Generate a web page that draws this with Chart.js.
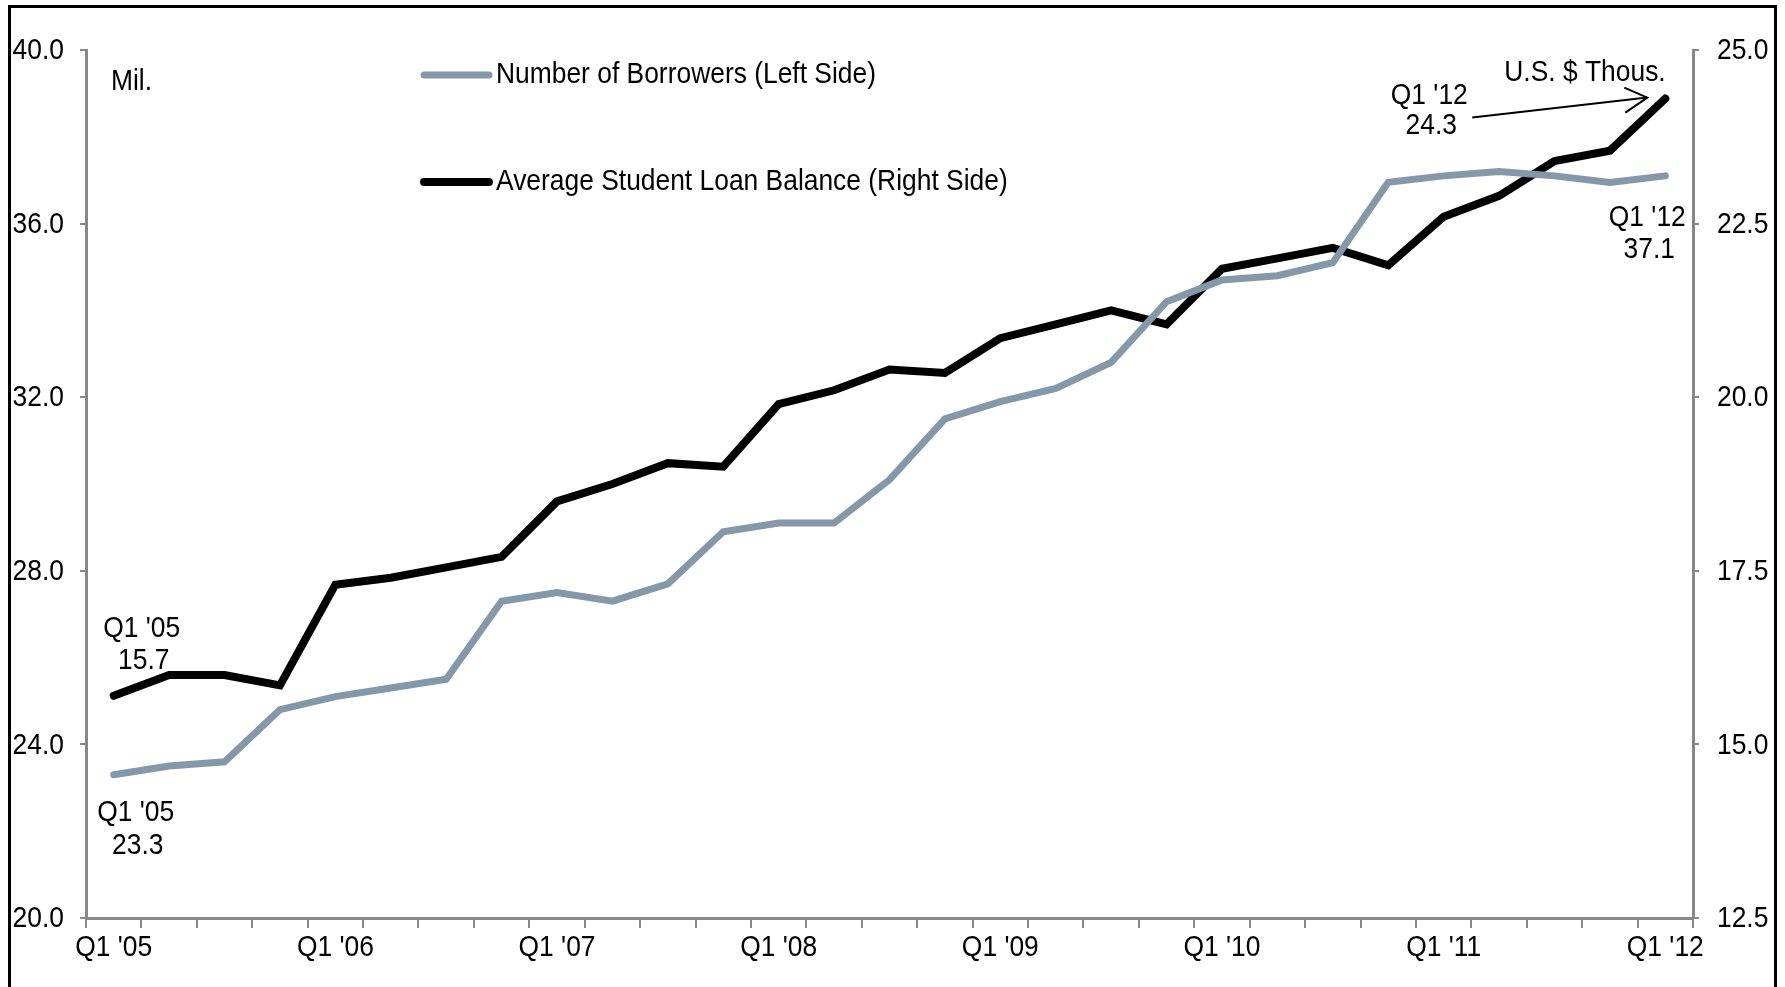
<!DOCTYPE html>
<html>
<head>
<meta charset="utf-8">
<title>Student loan borrowers and balances</title>
<script src="https://cdn.jsdelivr.net/npm/chart.js@4/dist/chart.umd.min.js"></script>
<style>
  html, body { margin: 0; padding: 0; background: #fff; }
  #wrap { width: 1785px; height: 987px; }
</style>
</head>
<body>
<div id="wrap"><canvas id="loanChart" width="1785" height="987"></canvas></div>
<script>
/* ===== DATA ===== */
const quarters = [
  "Q1 '05", "Q2 '05", "Q3 '05", "Q4 '05",
  "Q1 '06", "Q2 '06", "Q3 '06", "Q4 '06",
  "Q1 '07", "Q2 '07", "Q3 '07", "Q4 '07",
  "Q1 '08", "Q2 '08", "Q3 '08", "Q4 '08",
  "Q1 '09", "Q2 '09", "Q3 '09", "Q4 '09",
  "Q1 '10", "Q2 '10", "Q3 '10", "Q4 '10",
  "Q1 '11", "Q2 '11", "Q3 '11", "Q4 '11",
  "Q1 '12"
];

// millions of borrowers (left axis)
const borrowers = [
  23.3, 23.5, 23.6, 24.8,
  25.1, 25.3, 25.5, 27.3,
  27.5, 27.3, 27.7, 28.9,
  29.1, 29.1, 30.1, 31.5,
  31.9, 32.2, 32.8, 34.2,
  34.7, 34.8, 35.1, 36.95,
  37.1, 37.2, 37.1, 36.95,
  37.1
];

// average balance, thousands of dollars (right axis)
const avgBalance = [
  15.7, 16.0, 16.0, 15.85,
  17.3, 17.4, 17.55, 17.7,
  18.5, 18.75, 19.05, 19.0,
  19.9, 20.1, 20.4, 20.35,
  20.85, 21.05, 21.25, 21.05,
  21.85, 22.0, 22.15, 21.9,
  22.6, 22.9, 23.4, 23.55,
  24.3
];

const leftTicks = { min: 20, max: 40, step: 4 };
const rightTicks = { min: 12.5, max: 25, step: 2.5 };

/* ===== STYLE ===== */
const FONT = "'Liberation Sans', Arial, sans-serif";
const FONT_SIZE = 30;
const SQUEEZE = 0.88;          // narrow the glyphs horizontally
const AXIS_GREY = "#888888";
const BORROWER_COLOR = "#8598aa";

// draw condensed text centred vertically on y
function narrowText(ctx, text, x, y, align) {
  ctx.save();
  ctx.translate(x, y);
  ctx.scale(SQUEEZE, 1);
  ctx.font = FONT_SIZE + "px " + FONT;
  ctx.fillStyle = "#000";
  ctx.textBaseline = "middle";
  ctx.textAlign = align || "center";
  ctx.fillText(text, 0, 0);
  ctx.restore();
}

/* ===== FRAME + LABELS + LEGEND + CALLOUTS ===== */
const extras = {
  id: "extras",
  beforeDraw(chart) {
    const ctx = chart.ctx;
    ctx.save();
    ctx.fillStyle = "#fff";
    ctx.fillRect(0, 0, chart.width, chart.height);
    ctx.restore();
  },
  afterDraw(chart) {
    const ctx = chart.ctx;
    const x = chart.scales.x;
    const yL = chart.scales.yLeft;
    const yR = chart.scales.yRight;
    const last = quarters.length - 1;

    ctx.save();

    // outer frame
    ctx.strokeStyle = "#000";
    ctx.lineWidth = 3;
    ctx.strokeRect(9.5, 6.5, 1766, 1000);

    // tick labels
    yL.ticks.forEach((t, i) => {
      narrowText(ctx, t.label, 64, yL.getPixelForTick(i) + 1, "right");
    });
    yR.ticks.forEach((t, i) => {
      narrowText(ctx, t.label, 1717, yR.getPixelForTick(i) + 1, "left");
    });
    x.ticks.forEach((t, i) => {
      if (t.label) narrowText(ctx, t.label, x.getPixelForTick(i), 948, "center");
    });

    // legend, two rows
    ctx.lineCap = "round";
    const rows = [75, 182];
    chart.data.datasets.forEach((ds, i) => {
      ctx.strokeStyle = ds.borderColor;
      ctx.lineWidth = ds.borderWidth;
      ctx.beginPath();
      ctx.moveTo(424, rows[i]);
      ctx.lineTo(489, rows[i]);
      ctx.stroke();
      narrowText(ctx, ds.label, 496, rows[i], "left");
    });

    // unit labels
    narrowText(ctx, "Mil.", 111, 82, "left");
    narrowText(ctx, "U.S. $ Thous.", 1585, 73, "center");

    // first / last value callouts
    const bx0 = x.getPixelForValue(0);
    const bxN = x.getPixelForValue(last);
    const balFirst = yR.getPixelForValue(avgBalance[0]);
    const balLast = yR.getPixelForValue(avgBalance[last]);
    const borFirst = yL.getPixelForValue(borrowers[0]);
    const borLast = yL.getPixelForValue(borrowers[last]);

    narrowText(ctx, "Q1 '05", bx0 + 28, balFirst - 67);
    narrowText(ctx, avgBalance[0].toFixed(1), bx0 + 30, balFirst - 35);

    narrowText(ctx, "Q1 '05", bx0 + 22, borFirst + 38);
    narrowText(ctx, borrowers[0].toFixed(1), bx0 + 24, borFirst + 71);

    narrowText(ctx, "Q1 '12", bxN - 18, borLast + 42);
    narrowText(ctx, borrowers[last].toFixed(1), bxN - 16, borLast + 74);

    narrowText(ctx, "Q1 '12", bxN - 236, balLast - 3);
    narrowText(ctx, avgBalance[last].toFixed(1), bxN - 234, balLast + 27);

    // arrow pointing at the last balance point
    const tipX = bxN - 18, tipY = balLast - 1;
    const tailX = bxN - 193, tailY = balLast + 19;
    ctx.strokeStyle = "#000";
    ctx.lineWidth = 2;
    ctx.lineCap = "butt";
    ctx.beginPath();
    ctx.moveTo(tailX, tailY);
    ctx.lineTo(tipX, tipY);
    ctx.moveTo(tipX - 23, tipY - 10);
    ctx.lineTo(tipX, tipY);
    ctx.lineTo(tipX - 22, tipY + 15);
    ctx.stroke();

    ctx.restore();
  }
};

/* ===== LINE CHART ===== */
new Chart(document.getElementById("loanChart"), {
  type: "line",
  data: {
    labels: quarters,
    datasets: [
      {
        label: "Number of Borrowers (Left Side)",
        data: borrowers,
        yAxisID: "yLeft",
        borderColor: BORROWER_COLOR,
        borderWidth: 7,
        borderCapStyle: "round",
        borderJoinStyle: "miter",
        pointRadius: 0,
        tension: 0
      },
      {
        label: "Average Student Loan Balance (Right Side)",
        data: avgBalance,
        yAxisID: "yRight",
        borderColor: "#000",
        borderWidth: 8,
        borderCapStyle: "round",
        borderJoinStyle: "miter",
        pointRadius: 0,
        tension: 0
      }
    ]
  },
  options: {
    responsive: false,
    animation: false,
    layout: { padding: { top: 50, left: 0, right: 0, bottom: 0 } },
    plugins: {
      legend: { display: false },
      tooltip: { enabled: false }
    },
    scales: {
      x: {
        type: "category",
        offset: true,
        afterFit(scale) { scale.height = 69; },
        border: { display: true, color: AXIS_GREY, width: 3 },
        grid: {
          display: true,
          offset: true,
          drawOnChartArea: false,
          drawTicks: true,
          tickLength: 10,
          color: AXIS_GREY,
          lineWidth: 2
        },
        ticks: {
          display: false,
          autoSkip: false,
          callback(value, index) {
            return index % 4 === 0 ? this.getLabelForValue(value) : "";
          }
        }
      },
      yLeft: {
        position: "left",
        min: leftTicks.min,
        max: leftTicks.max,
        afterFit(scale) { scale.width = 86; },
        border: { display: true, color: AXIS_GREY, width: 3 },
        grid: {
          drawOnChartArea: false,
          drawTicks: true,
          tickLength: 6,
          color: AXIS_GREY,
          lineWidth: 2
        },
        ticks: {
          display: false,
          stepSize: leftTicks.step,
          callback: v => v.toFixed(1)
        }
      },
      yRight: {
        position: "right",
        min: rightTicks.min,
        max: rightTicks.max,
        afterFit(scale) { scale.width = 92; },
        border: { display: true, color: AXIS_GREY, width: 3 },
        grid: {
          drawOnChartArea: false,
          drawTicks: true,
          tickLength: 6,
          color: AXIS_GREY,
          lineWidth: 2
        },
        ticks: {
          display: false,
          stepSize: rightTicks.step,
          callback: v => v.toFixed(1)
        }
      }
    }
  },
  plugins: [extras]
});
</script>
</body>
</html>
